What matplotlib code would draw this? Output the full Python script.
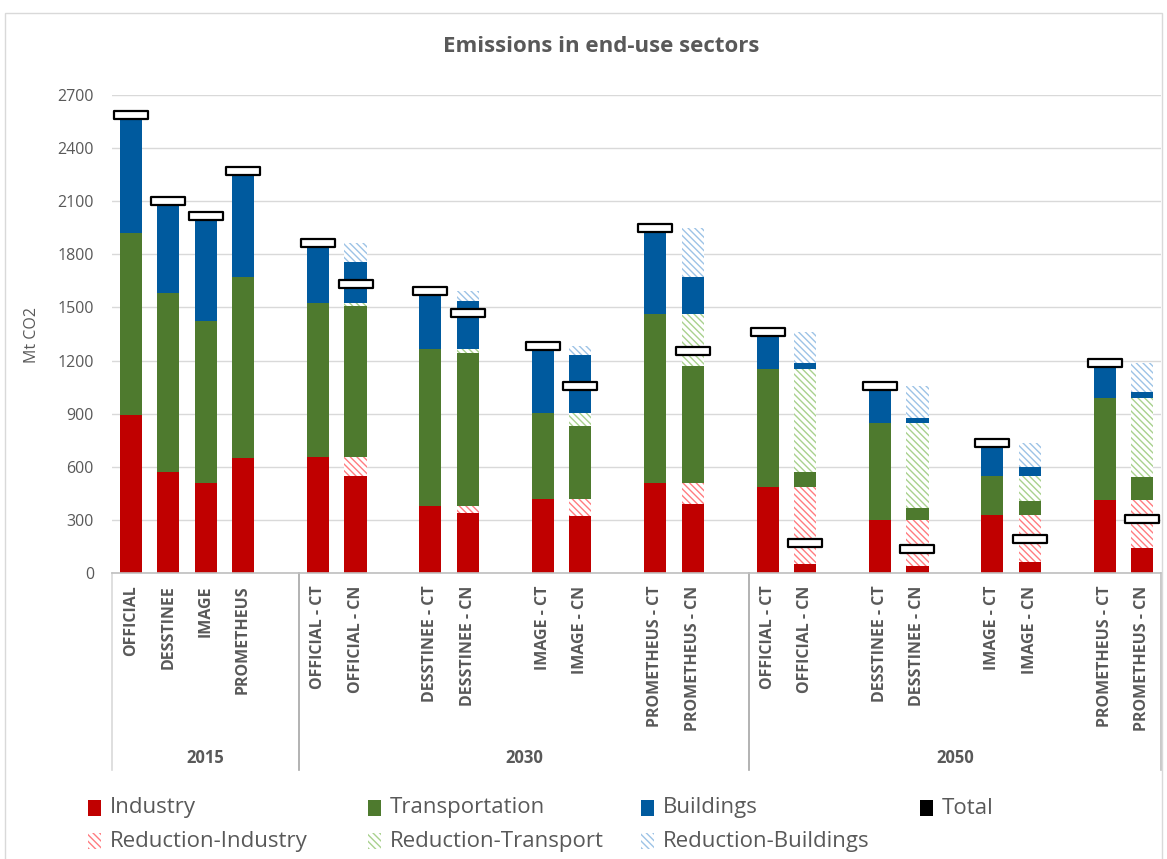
import numpy as np
import matplotlib.pyplot as plt
import matplotlib.transforms as mtransforms
from matplotlib.patches import Rectangle
from matplotlib.path import Path

plt.rcParams['font.family'] = ['Open Sans', 'DejaVu Sans']
plt.rcParams['hatch.linewidth'] = 1.0

# Emissions in Mt CO2 per end-use sector
models = ["OFFICIAL", "DESSTINEE", "IMAGE", "PROMETHEUS"]
years = ["2015", "2030", "2050"]

industry_2015 = [890, 570, 510, 650]
transport_2015 = [1030, 1010, 915, 1020]
buildings_2015 = [665, 520, 590, 600]

# current trends (CT) and carbon neutrality (CN) scenarios
industry_ct_2030 = [655, 380, 420, 510]
transport_ct_2030 = [870, 885, 485, 955]
buildings_ct_2030 = [340, 330, 375, 485]
industry_cn_2030 = [550, 340, 320, 390]
transport_cn_2030 = [855, 860, 410, 660]
buildings_cn_2030 = [230, 270, 325, 205]

industry_ct_2050 = [485, 300, 325, 415]
transport_ct_2050 = [665, 545, 225, 575]
buildings_ct_2050 = [210, 210, 185, 195]
industry_cn_2050 = [50, 40, 60, 140]
transport_cn_2050 = [85, 65, 80, 130]
buildings_cn_2050 = [35, 30, 50, 35]

# colours
c_ind, c_tr, c_bld = "#C00000", "#4E7A2E", "#005A9E"
h_ind, h_tr, h_bld = "#FF7C80", "#A9D18E", "#9DC3E6"
text_col = "#595959"
stripes = "\\" * 5

# ---- build the bar slots: 4 bars for 2015, then CT/CN pairs with a gap slot
xpos, labels = [], []
ind, ind_red, tr, tr_red, bld, bld_red = [], [], [], [], [], []

for i, m in enumerate(models):
    xpos.append(i)
    labels.append(m)
    ind.append(industry_2015[i]); ind_red.append(0)
    tr.append(transport_2015[i]); tr_red.append(0)
    bld.append(buildings_2015[i]); bld_red.append(0)

slot = 5
scen = [
    (industry_ct_2030, transport_ct_2030, buildings_ct_2030,
     industry_cn_2030, transport_cn_2030, buildings_cn_2030),
    (industry_ct_2050, transport_ct_2050, buildings_ct_2050,
     industry_cn_2050, transport_cn_2050, buildings_cn_2050),
]
for i_ct, t_ct, b_ct, i_cn, t_cn, b_cn in scen:
    for i, m in enumerate(models):
        xpos.append(slot)
        labels.append(m + " - CT")
        ind.append(i_ct[i]); ind_red.append(0)
        tr.append(t_ct[i]); tr_red.append(0)
        bld.append(b_ct[i]); bld_red.append(0)

        xpos.append(slot + 1)
        labels.append(m + " - CN")
        ind.append(i_cn[i]); ind_red.append(i_ct[i] - i_cn[i])
        tr.append(t_cn[i]); tr_red.append(t_ct[i] - t_cn[i])
        bld.append(b_cn[i]); bld_red.append(b_ct[i] - b_cn[i])
        slot += 3

xpos = np.array(xpos)
total = np.array(ind) + np.array(tr) + np.array(bld)

W, H = 1167, 859
fig = plt.figure(figsize=(W / 100, H / 100), dpi=100)
ax = fig.add_axes([112 / W, 1 - 573 / H, (1161 - 112) / W, (573 - 95) / H])

layers = [
    (ind, c_ind, None), (ind_red, h_ind, "h"),
    (tr, c_tr, None), (tr_red, h_tr, "h"),
    (bld, c_bld, None), (bld_red, h_bld, "h"),
]
width = 0.59
bottom = np.zeros(len(xpos))
for vals, col, kind in layers:
    vals = np.array(vals, dtype=float)
    if kind is None:
        ax.bar(xpos, vals, width, bottom=bottom, color=col, linewidth=0, zorder=2)
    else:
        ax.bar(xpos, vals, width, bottom=bottom, facecolor="white",
               edgecolor=col, linewidth=0, hatch=stripes, zorder=2)
    bottom += vals

# total marker: flat open rectangle
box = Path([(-1, -0.22), (1, -0.22), (1, 0.22), (-1, 0.22), (-1, -0.22)],
           [Path.MOVETO, Path.LINETO, Path.LINETO, Path.LINETO, Path.CLOSEPOLY])
ax.plot(xpos, total, linestyle="none", marker=box, markersize=25,
        markerfacecolor="white", markeredgecolor="black", markeredgewidth=1.6,
        zorder=4)

ax.set_xlim(-0.5, 27.5)
ax.set_ylim(0, 2700)
ax.set_yticks(np.arange(0, 2701, 300))
ax.yaxis.grid(True, color="#d9d9d9", linewidth=1)
ax.set_axisbelow(True)
for s in ["top", "left", "right"]:
    ax.spines[s].set_visible(False)
ax.spines["bottom"].set_color("#bfbfbf")
ax.spines["bottom"].set_linewidth(1.2)
ax.tick_params(axis="y", length=0, pad=13, labelsize=11.5, labelcolor=text_col)
ax.set_xticks(xpos)
ax.set_xticklabels(labels, rotation=90, fontsize=11.5, fontweight="bold",
                   color=text_col)
ax.tick_params(axis="x", length=0, pad=9)

# year groups below the category labels
trans = mtransforms.blended_transform_factory(ax.transData, ax.transAxes)
sep_bottom = -(770 - 573) / (573 - 95)
for xs, col in [(-0.5, "#d9d9d9"), (4.5, "#a6a6a6"), (16.5, "#a6a6a6"), (27.5, "#bfbfbf")]:
    ax.plot([xs, xs], [0, sep_bottom], color=col, linewidth=1.2,
            transform=trans, clip_on=False)
year_y = -(758 - 573) / (573 - 95)
for xc, yr in zip([2.0, 10.5, 22.0], years):
    ax.text(xc, year_y, yr, transform=trans, ha="center", va="center",
            fontsize=12, fontweight="bold", color=text_col)

fig.text(32 / W, 1 - 335 / H, "Mt CO2", rotation=90, ha="center", va="center",
         fontsize=11.5, color=text_col)
fig.text(601 / W, 1 - 46 / H, "Emissions in end-use sectors", ha="center",
         va="center", fontsize=16, fontweight="bold", color=text_col)

# outer chart frame
fig.patches.append(Rectangle((5 / W, -0.02), (1162 - 5) / W, 0.02 + 1 - 13 / H,
                             transform=fig.transFigure, fill=False,
                             edgecolor="#d9d9d9", linewidth=1))

# legend, laid out in two rows like the spreadsheet legend
legend_items = [
    ("Industry", c_ind, None, 88, 808),
    ("Transportation", c_tr, None, 368, 808),
    ("Buildings", c_bld, None, 641, 808),
    ("Total", "black", None, 920, 808),
    ("Reduction-Industry", h_ind, "h", 88, 841),
    ("Reduction-Transport", h_tr, "h", 368, 841),
    ("Reduction-Buildings", h_bld, "h", 641, 841),
]
for name, col, kind, px, py in legend_items:
    if kind is None:
        sq = Rectangle((px / W, 1 - (py + 8) / H), 13 / W, 16 / H,
                       transform=fig.transFigure, facecolor=col, linewidth=0)
    else:
        sq = Rectangle((px / W, 1 - (py + 8) / H), 13 / W, 16 / H,
                       transform=fig.transFigure, facecolor="white",
                       edgecolor=col, linewidth=0, hatch=stripes)
    fig.patches.append(sq)
    fig.text((px + 22) / W, 1 - py / H, name, ha="left", va="center",
             fontsize=16, color=text_col)

fig.savefig("out.png", dpi=100)
